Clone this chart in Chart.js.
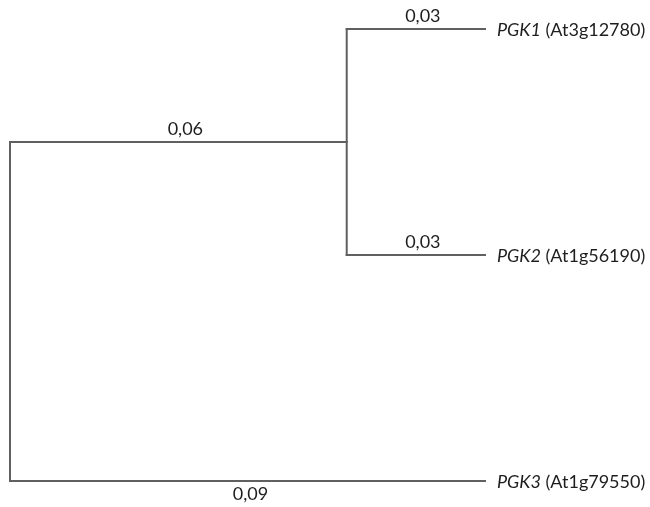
<!DOCTYPE html>
<html>
<head>
<meta charset="utf-8">
<script src="https://cdn.jsdelivr.net/npm/chart.js@4/dist/chart.umd.min.js"></script>
<style>
html,body{margin:0;padding:0;background:#fff;}
#wrap{width:650px;height:507px;}
</style>
</head>
<body>
<div id="wrap"><canvas id="c" width="650" height="507"></canvas></div>
<script>
// Tree data
const taxa = ['PGK1', 'PGK2', 'PGK3'];
const loci = ['At3g12780', 'At1g56190', 'At1g79550'];
const tipOrder = [0, 1, 2];              // vertical position of each tip
const tipDepth = 0.09;                   // cumulative distance of tips from root
const cladeDepth = 0.0638;               // depth of internal node (PGK1,PGK2) as drawn
const branchLabels = ['0,06', '0,03', '0,03', '0,09']; // root->clade, clade->PGK1, clade->PGK2, root->PGK3

const cladeY = (tipOrder[0] + tipOrder[1]) / 2;

// Build segments from the tree structure
const segments = [
  [{x: 0, y: cladeY}, {x: 0, y: tipOrder[2]}],
  [{x: 0, y: cladeY}, {x: cladeDepth, y: cladeY}],
  [{x: cladeDepth, y: tipOrder[0]}, {x: cladeDepth, y: tipOrder[1]}],
  [{x: cladeDepth, y: tipOrder[0]}, {x: tipDepth, y: tipOrder[0]}],
  [{x: cladeDepth, y: tipOrder[1]}, {x: tipDepth, y: tipOrder[1]}],
  [{x: 0, y: tipOrder[2]}, {x: tipDepth, y: tipOrder[2]}]
];

const labelAnchors = [
  {x: cladeDepth / 2, y: cladeY, dx: 7, dy: -4, base: 'bottom', text: branchLabels[0]},
  {x: (cladeDepth + tipDepth) / 2, y: tipOrder[0], dx: 7, dy: -4, base: 'bottom', text: branchLabels[1]},
  {x: (cladeDepth + tipDepth) / 2, y: tipOrder[1], dx: 7, dy: -4, base: 'bottom', text: branchLabels[2]},
  {x: tipDepth / 2, y: tipOrder[2], dx: 3, dy: 4, base: 'top', text: branchLabels[3]}
];

const lineColor = '#606060';
const textColor = '#1e1e1e';
const fontFam = 'Lato, "Open Sans", sans-serif';
const fontSize = 18;

const labelPlugin = {
  id: 'treeLabels',
  afterDatasetsDraw(chart) {
    const ctx = chart.ctx;
    const xs = chart.scales.x, ys = chart.scales.y;
    ctx.save();
    ctx.fillStyle = textColor;
    ctx.font = fontSize + 'px ' + fontFam;
    ctx.textAlign = 'center';
    labelAnchors.forEach(l => {
      ctx.textBaseline = l.base;
      ctx.fillText(l.text, xs.getPixelForValue(l.x) + l.dx, ys.getPixelForValue(l.y) + l.dy);
    });
    ctx.textAlign = 'left';
    ctx.textBaseline = 'middle';
    taxa.forEach((t, i) => {
      let px = xs.getPixelForValue(tipDepth) + 12;
      const py = ys.getPixelForValue(tipOrder[i]) + 1;
      ctx.font = 'italic ' + fontSize + 'px ' + fontFam;
      ctx.fillText(t, px, py);
      px += ctx.measureText(t).width;
      ctx.font = fontSize + 'px ' + fontFam;
      ctx.fillText(' (' + loci[i] + ')', px, py);
    });
    ctx.restore();
  }
};

new Chart(document.getElementById('c'), {
  type: 'scatter',
  data: {
    datasets: segments.map(s => ({
      data: s,
      showLine: true,
      borderColor: lineColor,
      borderWidth: 2,
      pointRadius: 0,
      pointHoverRadius: 0,
      fill: false,
      tension: 0,
      clip: false,
      borderCapStyle: 'square'
    }))
  },
  options: {
    responsive: false,
    animation: false,
    devicePixelRatio: 1,
    layout: {padding: {left: 10, right: 165, top: 29, bottom: 26}},
    plugins: {legend: {display: false}, tooltip: {enabled: false}},
    scales: {
      x: {type: 'linear', min: 0, max: tipDepth, display: false},
      y: {type: 'linear', min: 0, max: 2, reverse: true, display: false}
    }
  },
  plugins: [labelPlugin]
});
</script>
</body>
</html>
